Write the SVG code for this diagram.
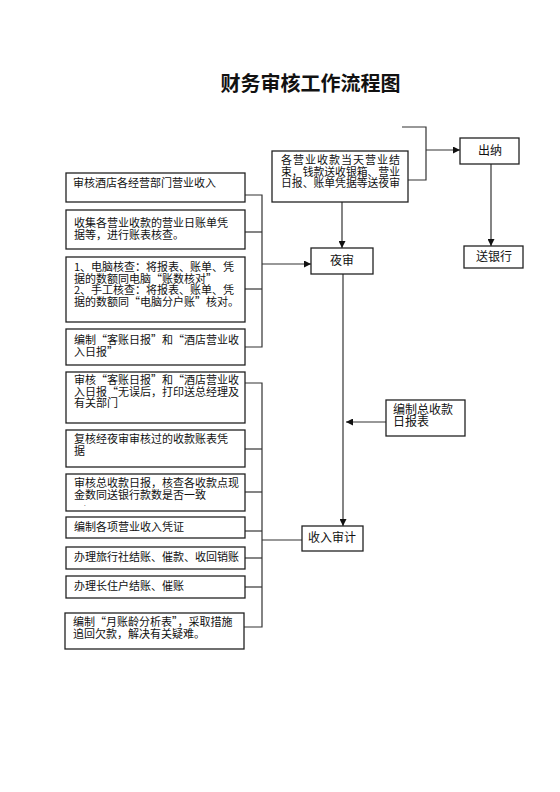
<svg xmlns="http://www.w3.org/2000/svg" width="560" height="792" viewBox="0 0 560 792">
<style>
.b{fill:#fff;stroke:#222;stroke-width:1.3}
.t{font-family:"Noto Sans CJK SC","Noto Sans",sans-serif;font-size:11px;fill:#111}
.m{font-size:12px}
.c{text-anchor:middle}
.l{fill:none;stroke:#333;stroke-width:1.2}
</style>
<defs>
<marker id="a" viewBox="0 0 10 10" refX="10" refY="5" markerWidth="7" markerHeight="7" markerUnits="userSpaceOnUse" orient="auto"><path d="M0,0 L10,5 L0,10 z" fill="#111"/></marker>
</defs>
<rect width="560" height="792" fill="#fff"/>
<text x="310.5" y="91" font-family="'Noto Sans CJK SC',sans-serif" font-size="20" font-weight="bold" text-anchor="middle" fill="#111">财务审核工作流程图</text>

<g id="connectors">
<polyline class="l" points="402,127 426,127 426,180 408,180"/>
<line class="l" x1="426" y1="150" x2="460" y2="150" marker-end="url(#a)"/>
<line class="l" x1="491" y1="164" x2="491" y2="246" marker-end="url(#a)"/>
<line class="l" x1="342" y1="202" x2="342" y2="248" marker-end="url(#a)"/>
<polyline class="l" points="245,195 262,195 262,347 245,347"/>
<line class="l" x1="245" y1="232" x2="262" y2="232"/>
<line class="l" x1="245" y1="289" x2="262" y2="289"/>
<line class="l" x1="262" y1="264" x2="311" y2="264" marker-end="url(#a)"/>
<line class="l" x1="343" y1="274" x2="343" y2="526" marker-end="url(#a)"/>
<line class="l" x1="386" y1="422" x2="346" y2="422" marker-end="url(#a)"/>
<polyline class="l" points="245,383 262,383 262,627 244,627"/>
<line class="l" x1="245" y1="449" x2="262" y2="449"/>
<line class="l" x1="245" y1="492" x2="262" y2="492"/>
<line class="l" x1="245" y1="531" x2="262" y2="531"/>
<line class="l" x1="245" y1="558" x2="262" y2="558"/>
<line class="l" x1="245" y1="587" x2="262" y2="587"/>
<line class="l" x1="262" y1="540" x2="302" y2="540"/>
</g>

<g id="n_top"><rect class="b" x="272" y="151" width="136" height="51"/>
<text class="t"><tspan x="281" y="164" textLength="119" lengthAdjust="spacing">各营业收款当天营业结</tspan><tspan x="281" y="175.5" textLength="119" lengthAdjust="spacingAndGlyphs">束，钱款送收银箱、营业</tspan><tspan x="281" y="187" textLength="119" lengthAdjust="spacingAndGlyphs">日报、账单凭据等送夜审</tspan></text></g>

<g id="n_chuna"><rect class="b" x="460" y="138" width="59" height="26"/>
<text class="t m c" x="490" y="155">出纳</text></g>

<g id="n_bank"><rect class="b" x="464" y="246" width="59" height="22"/>
<text class="t m c" x="494" y="261">送银行</text></g>

<g id="n_yeshen"><rect class="b" x="311" y="248" width="62" height="26"/>
<text class="t m c" x="342" y="265">夜审</text></g>

<g id="n1"><rect class="b" x="66" y="173" width="179" height="29"/>
<text class="t" x="73" y="187">审核酒店各经营部门营业收入</text></g>

<g id="n2"><rect class="b" x="66" y="210" width="179" height="39"/>
<text class="t"><tspan x="74" y="227">收集各营业收款的营业日账单凭</tspan><tspan x="74" y="238.5">据等，进行账表核查。</tspan></text></g>

<g id="n3"><rect class="b" x="66" y="257" width="179" height="65"/>
<text class="t"><tspan x="74" y="271">1、电脑核查：将报表、账单、凭</tspan><tspan x="74" y="282.5">据的数额同电脑“账数核对”</tspan><tspan x="74" y="294">2、手工核查：将报表、账单、凭</tspan><tspan x="74" y="305.5">据的数额同“电脑分户账”核对。</tspan></text></g>

<g id="n4"><rect class="b" x="66" y="329" width="179" height="36"/>
<text class="t"><tspan x="74" y="344">编制“客账日报”和“酒店营业收</tspan><tspan x="74" y="356">入日报”</tspan></text></g>

<g id="n5"><rect class="b" x="66" y="372" width="179" height="51"/>
<text class="t"><tspan x="74" y="384">审核“客账日报”和“酒店营业收</tspan><tspan x="74" y="395.5">入日报“无误后，打印送总经理及</tspan><tspan x="74" y="407">有关部门</tspan></text></g>

<g id="n6"><rect class="b" x="66" y="430" width="179" height="37"/>
<text class="t"><tspan x="74" y="443">复核经夜审审核过的收款账表凭</tspan><tspan x="74" y="454.5">据</tspan></text></g>

<g id="n7"><rect class="b" x="66" y="474" width="179" height="37"/>
<text class="t"><tspan x="74" y="487">审核总收款日报，核查各收款点现</tspan><tspan x="74" y="498.5">金数同送银行款数是否一致</tspan><tspan x="84" y="506" font-size="6">.</tspan></text></g>

<g id="n8"><rect class="b" x="66" y="517" width="179" height="21"/>
<text class="t" x="74" y="531">编制各项营业收入凭证</text></g>

<g id="n9"><rect class="b" x="66" y="547" width="179" height="22"/>
<text class="t" x="74" y="561">办理旅行社结账、催款、收回销账</text></g>

<g id="n10"><rect class="b" x="66" y="576" width="179" height="22"/>
<text class="t" x="74" y="590">办理长住户结账、催账</text></g>

<g id="n11"><rect class="b" x="65" y="613" width="179" height="36"/>
<text class="t"><tspan x="73" y="626">编制“月账龄分析表”，采取措施</tspan><tspan x="73" y="637.5">追回欠款，解决有关疑难。</tspan></text></g>

<g id="n_total"><rect class="b" x="386" y="400" width="79" height="36"/>
<text class="t m"><tspan x="393" y="414">编制总收款</tspan><tspan x="393" y="425.5">日报表</tspan></text></g>

<g id="n_audit"><rect class="b" x="302" y="526" width="61" height="25"/>
<text class="t m c" x="332" y="542">收入审计</text></g>
</svg>
